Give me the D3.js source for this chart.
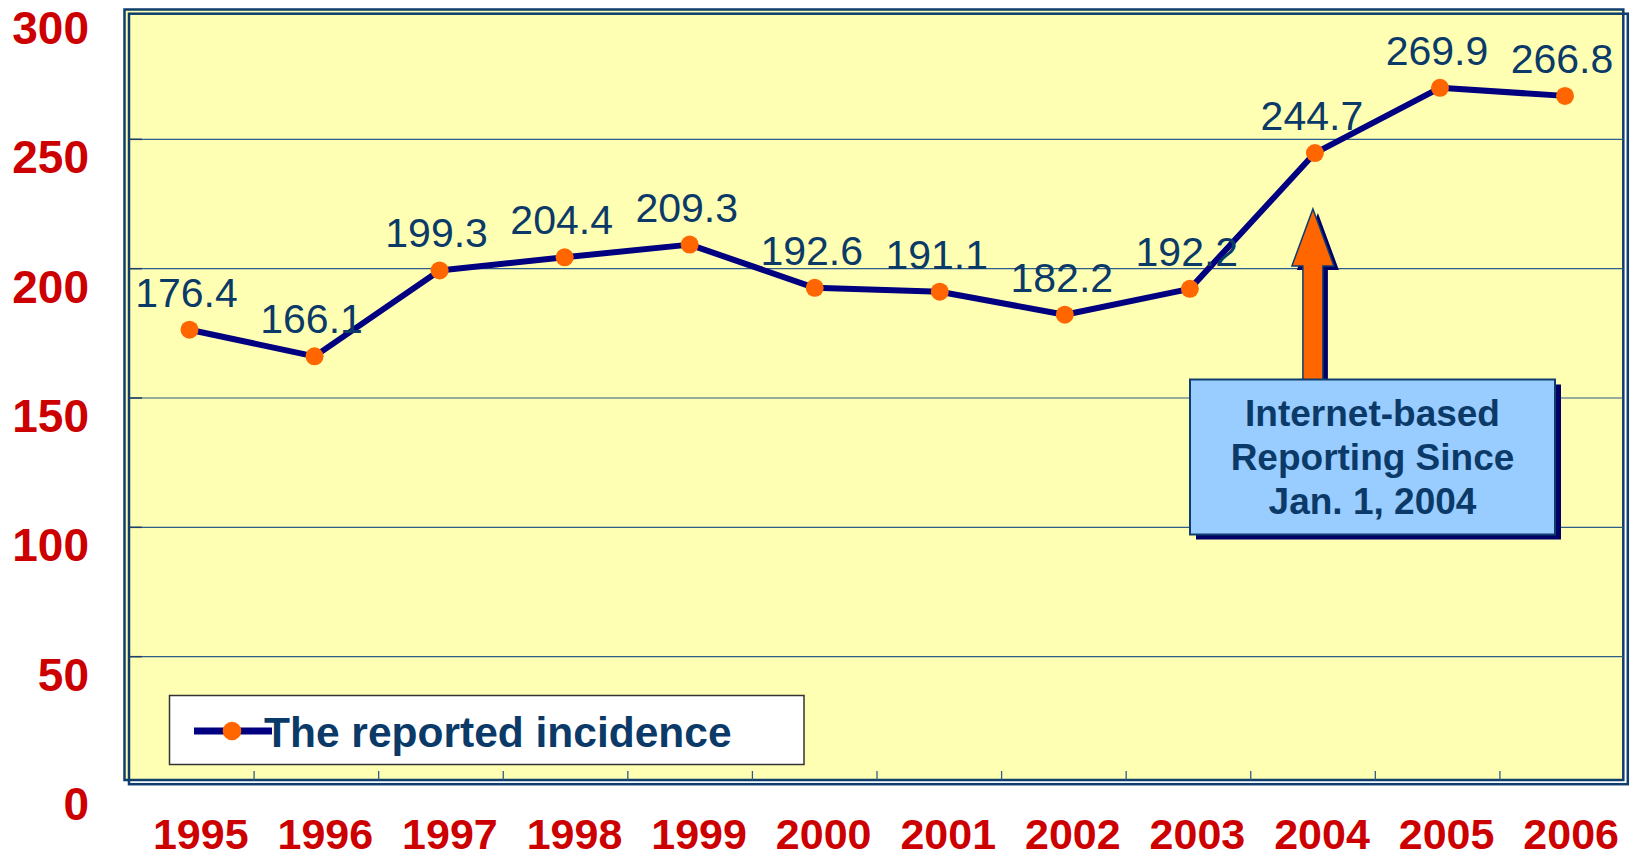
<!DOCTYPE html>
<html>
<head>
<meta charset="utf-8">
<script src="https://cdn.jsdelivr.net/npm/d3@7"></script>
<style>
  body { margin: 0; background: #fff; }
  svg { display: block; font-family: "Liberation Sans", Arial, sans-serif; }
</style>
</head>
<body>
<script>
var years = ["1995", "1996", "1997", "1998", "1999", "2000", "2001", "2002", "2003", "2004", "2005", "2006"];
var incidence = [176.4, 166.1, 199.3, 204.4, 209.3, 192.6, 191.1, 182.2, 192.2, 244.7, 269.9, 266.8];
var yTicks = [0, 50, 100, 150, 200, 250, 300];
var legendLabel = "The reported incidence";
var noteLines = ["Internet-based", "Reporting Since", "Jan. 1, 2004"];
var noteYear = "2004";

var width = 1631, height = 858;
var frame = { left: 124.5, top: 9.5, right: 1623.3, bottom: 780 };

var svg = d3.select("body").append("svg")
  .attr("width", width)
  .attr("height", height);

// categories: band scale for ticks/labels, point scale for the markers
var x = d3.scaleBand().domain(years).range([129.5, 1624.5]);
var xp = d3.scalePoint().domain(years).range([189.5, 1565]);
var y = d3.scaleLinear().domain([0, 300]).range([786, 10]);

// plot frame (double line, offset)
svg.append("rect")
  .attr("x", frame.left).attr("y", frame.top)
  .attr("width", frame.right - frame.left).attr("height", frame.bottom - frame.top)
  .style("fill", "#FFFFB3").style("stroke", "#0E3D6E").style("stroke-width", 2.5);
svg.append("rect")
  .attr("x", frame.left + 4.5).attr("y", frame.top + 4.2)
  .attr("width", frame.right - frame.left).attr("height", frame.bottom - frame.top)
  .style("fill", "none").style("stroke", "#0E3D6E").style("stroke-width", 2.5);

var inner = yTicks.filter(function(d) { return d > 0 && d < 300; });

// gridlines
svg.append("g").selectAll("line")
  .data(inner)
  .enter().append("line")
  .attr("x1", 129).attr("x2", frame.right)
  .attr("y1", function(d) { return y(d); }).attr("y2", function(d) { return y(d); })
  .style("stroke", "#2F5C88").style("stroke-width", 1.2);

// small inward y ticks
svg.append("g").selectAll("line")
  .data(inner)
  .enter().append("line")
  .attr("x1", 129).attr("x2", 142)
  .attr("y1", function(d) { return y(d); }).attr("y2", function(d) { return y(d); })
  .style("stroke", "#1F3F66").style("stroke-width", 1.5);

// x ticks at band boundaries
svg.append("g").selectAll("line")
  .data(years.slice(1))
  .enter().append("line")
  .attr("x1", function(d) { return x(d); }).attr("x2", function(d) { return x(d); })
  .attr("y1", 771).attr("y2", frame.bottom)
  .style("stroke", "#2F5C88").style("stroke-width", 1.3);

// y labels
svg.append("g").selectAll("text")
  .data(yTicks)
  .enter().append("text")
  .attr("x", 89)
  .attr("y", function(d) { return y(d) + 34; })
  .attr("text-anchor", "end")
  .style("font-size", "46px").style("font-weight", "bold").style("fill", "#CC0000")
  .text(function(d) { return d; });

// x labels
svg.append("g").selectAll("text")
  .data(years)
  .enter().append("text")
  .attr("x", function(d) { return x(d) + x.bandwidth() / 2 + 9; })
  .attr("y", 849)
  .attr("text-anchor", "middle")
  .style("font-size", "43px").style("font-weight", "bold").style("fill", "#CC0000")
  .text(function(d) { return d; });

// line
var line = d3.line()
  .x(function(d, i) { return xp(years[i]); })
  .y(function(d) { return y(d); });

svg.append("path")
  .datum(incidence)
  .attr("d", line)
  .style("fill", "none").style("stroke", "#000080").style("stroke-width", 6)
  .style("stroke-linejoin", "round");

svg.append("g").selectAll("circle")
  .data(incidence)
  .enter().append("circle")
  .attr("cx", function(d, i) { return xp(years[i]); })
  .attr("cy", function(d) { return y(d); })
  .attr("r", 9)
  .style("fill", "#FF6600");

svg.append("g").selectAll("text")
  .data(incidence)
  .enter().append("text")
  .attr("x", function(d, i) { return xp(years[i]) - 3; })
  .attr("y", function(d) { return y(d) - 23; })
  .attr("text-anchor", "middle")
  .style("font-size", "41px").style("fill", "#0B3A68")
  .text(function(d) { return d.toFixed(1); });

// annotation arrow
var ax = xp(noteYear) - 2;
function arrowPath(ox, oy) {
  var p = d3.path();
  p.moveTo(ax + ox, 209 + oy);
  p.lineTo(ax + 21 + ox, 266 + oy);
  p.lineTo(ax + 10 + ox, 266 + oy);
  p.lineTo(ax + 10 + ox, 380 + oy);
  p.lineTo(ax - 10 + ox, 380 + oy);
  p.lineTo(ax - 10 + ox, 266 + oy);
  p.lineTo(ax - 21 + ox, 266 + oy);
  p.closePath();
  return p.toString();
}
svg.append("path").attr("d", arrowPath(5, 4)).style("fill", "#000066");
svg.append("path").attr("d", arrowPath(0, 0))
  .style("fill", "#FF6600").style("stroke", "#0E3D6E").style("stroke-width", 1.5);

// annotation box
var box = { x: 1190, y: 379.5, w: 365, h: 155 };
svg.append("rect")
  .attr("x", box.x + 6).attr("y", box.y + 5)
  .attr("width", box.w).attr("height", box.h)
  .style("fill", "#000066");
svg.append("rect")
  .attr("x", box.x).attr("y", box.y)
  .attr("width", box.w).attr("height", box.h)
  .style("fill", "#99CCFF").style("stroke", "#0E3D6E").style("stroke-width", 2);

svg.append("g").selectAll("text")
  .data(noteLines)
  .enter().append("text")
  .attr("x", box.x + box.w / 2)
  .attr("y", function(d, i) { return 426 + i * 44.2; })
  .attr("text-anchor", "middle")
  .style("font-size", "37px").style("font-weight", "bold").style("fill", "#0B3A68")
  .text(function(d) { return d; });

// legend
var legend = svg.append("g");
legend.append("rect")
  .attr("x", 169.5).attr("y", 695.5)
  .attr("width", 634.5).attr("height", 69)
  .style("fill", "#fff").style("stroke", "#333").style("stroke-width", 1.5);
legend.append("line")
  .attr("x1", 194).attr("x2", 272).attr("y1", 731).attr("y2", 731)
  .style("stroke", "#000080").style("stroke-width", 7);
legend.append("circle")
  .attr("cx", 232).attr("cy", 731).attr("r", 9.3)
  .style("fill", "#FF6600");
legend.append("text")
  .attr("x", 264).attr("y", 747)
  .style("font-size", "42.5px").style("font-weight", "bold").style("fill", "#0B3A68")
  .text(legendLabel);
</script>
</body>
</html>
